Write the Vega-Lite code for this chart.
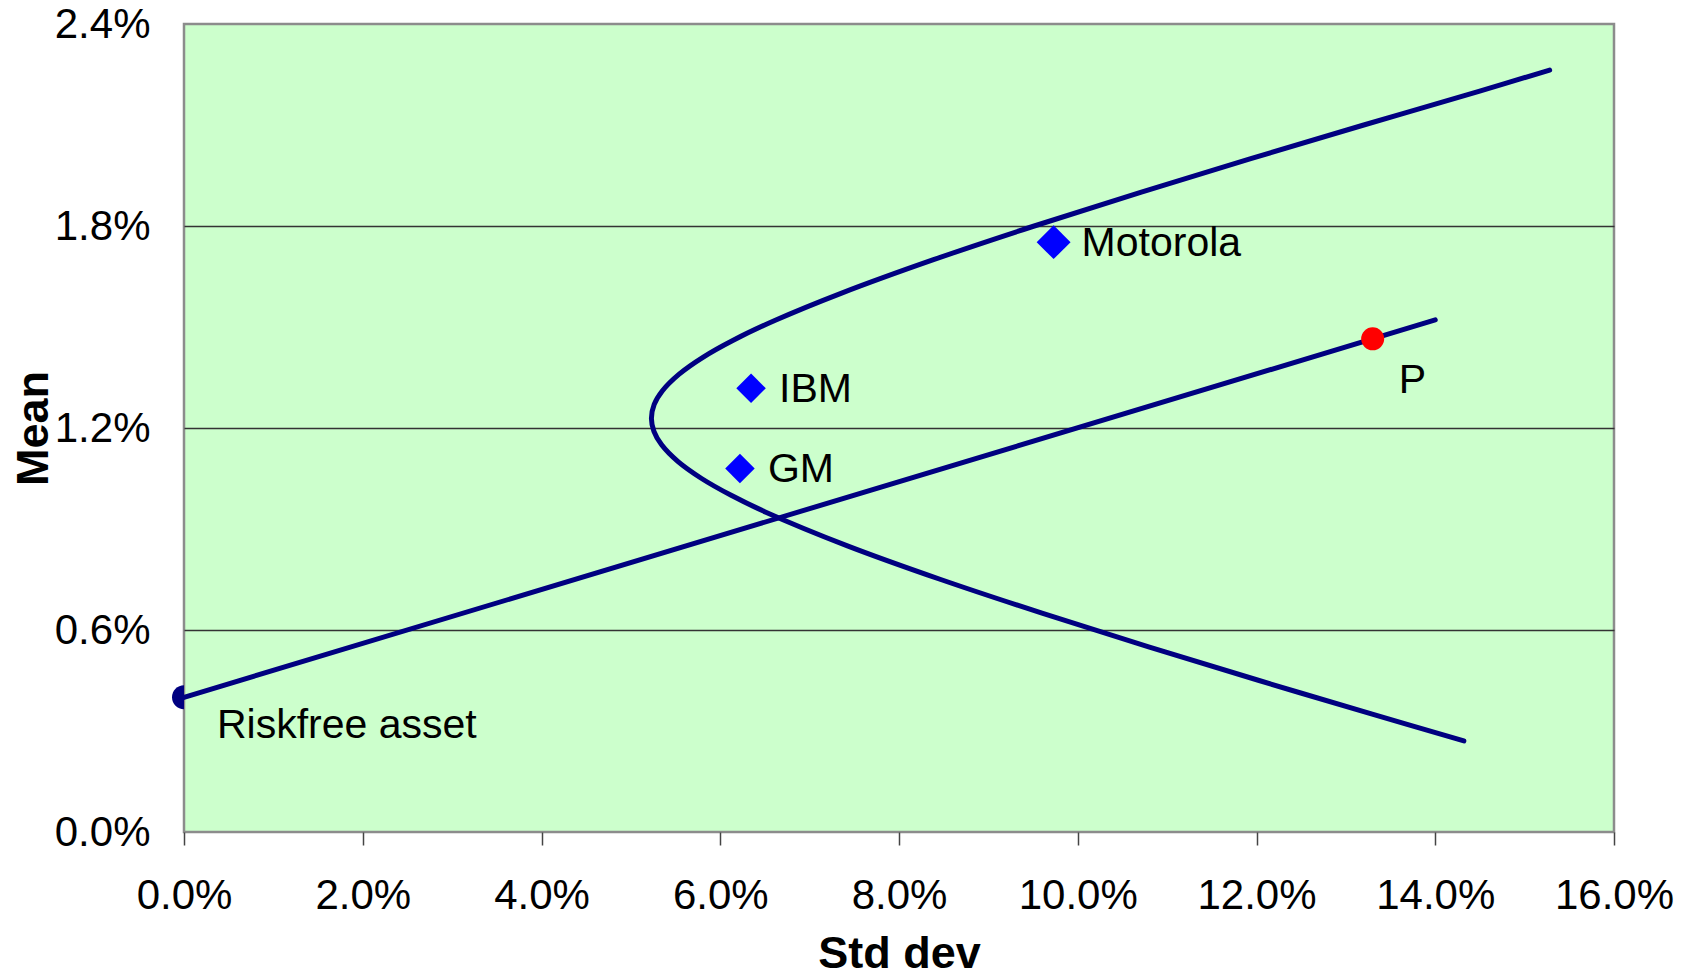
{
  "$schema": "https://vega.github.io/schema/vega-lite/v6.json",
  "width": 1430,
  "height": 808,
  "autosize": {"type": "none"},
  "padding": {"left": 184, "top": 24, "right": 80, "bottom": 144},
  "background": "white",
  "config": {
    "view": {"fill": "#CCFFCC", "stroke": "#8c8c8c", "strokeWidth": 2.5},
    "axis": {
      "labelFont": "Liberation Sans",
      "labelFontSize": 42,
      "labelColor": "#000000",
      "titleFont": "Liberation Sans",
      "titleFontSize": 45,
      "titleFontWeight": "bold",
      "titleColor": "#000000"
    },
    "text": {"font": "Liberation Sans", "fontSize": 41, "color": "#000000"}
  },
  "datasets": {
    "frontier": [
      {"sd": 0.1432, "mean": 0.002704},
      {"sd": 0.13295, "mean": 0.0035},
      {"sd": 0.12029, "mean": 0.0045},
      {"sd": 0.10793, "mean": 0.0055},
      {"sd": 0.0960, "mean": 0.0065},
      {"sd": 0.08467, "mean": 0.0075},
      {"sd": 0.07423, "mean": 0.0085},
      {"sd": 0.0651, "mean": 0.0095},
      {"sd": 0.06122, "mean": 0.0100},
      {"sd": 0.05791, "mean": 0.0105},
      {"sd": 0.05528, "mean": 0.0110},
      {"sd": 0.05344, "mean": 0.0115},
      {"sd": 0.05258, "mean": 0.0119},
      {"sd": 0.0523, "mean": 0.012287},
      {"sd": 0.05261, "mean": 0.0127},
      {"sd": 0.05351, "mean": 0.0131},
      {"sd": 0.0554, "mean": 0.0136},
      {"sd": 0.05806, "mean": 0.0141},
      {"sd": 0.0614, "mean": 0.0146},
      {"sd": 0.06616, "mean": 0.0152},
      {"sd": 0.07351, "mean": 0.0160},
      {"sd": 0.08386, "mean": 0.0170},
      {"sd": 0.09513, "mean": 0.0180},
      {"sd": 0.10703, "mean": 0.0190},
      {"sd": 0.11936, "mean": 0.0200},
      {"sd": 0.1320, "mean": 0.0210},
      {"sd": 0.14488, "mean": 0.0220},
      {"sd": 0.1528, "mean": 0.02263}
    ],
    "cal": [
      {"sd": 0.0, "mean": 0.004},
      {"sd": 0.14, "mean": 0.01521}
    ],
    "assets": [
      {"name": "Motorola", "sd": 0.0973, "mean": 0.01752},
      {"name": "IBM", "sd": 0.06345, "mean": 0.01318},
      {"name": "GM", "sd": 0.0622, "mean": 0.0108}
    ],
    "riskfree": [{"name": "Riskfree asset", "sd": 0.0, "mean": 0.004}],
    "portfolio": [{"name": "P", "sd": 0.1330, "mean": 0.01465}]
  },
  "encoding": {
    "x": {
      "field": "sd",
      "type": "quantitative",
      "scale": {"domain": [0, 0.16], "nice": false, "zero": false},
      "axis": {
        "title": "Std dev",
        "values": [0, 0.02, 0.04, 0.06, 0.08, 0.1, 0.12, 0.14, 0.16],
        "format": ".1%",
        "grid": false,
        "domain": false,
        "ticks": true,
        "tickSize": 13,
        "tickWidth": 1.5,
        "tickColor": "#444444",
        "labelPadding": 30,
        "labelFlush": false,
        "labelOverlap": false,
        "titleY": 135,
        "titleBaseline": "alphabetic"
      }
    },
    "y": {
      "field": "mean",
      "type": "quantitative",
      "scale": {"domain": [0, 0.024], "nice": false, "zero": false},
      "axis": {
        "title": "Mean",
        "values": [0, 0.006, 0.012, 0.018, 0.024],
        "format": ".1%",
        "grid": true,
        "gridColor": {"condition": {"test": "datum.value > 0.0001 && datum.value < 0.0239", "value": "#333333"}, "value": "transparent"},
        "gridWidth": 1.3,
        "domain": false,
        "ticks": false,
        "labelPadding": 34,
        "labelFlush": false,
        "labelOverlap": false,
        "titleX": -137,
        "titleBaseline": "alphabetic"
      }
    }
  },
  "layer": [
    {
      "data": {"name": "frontier"},
      "mark": {"type": "line", "color": "#000080", "strokeWidth": 5, "strokeCap": "round", "strokeJoin": "round", "interpolate": "catmull-rom"},
      "encoding": {"order": {"field": "mean", "type": "quantitative"}}
    },
    {
      "data": {"name": "cal"},
      "mark": {"type": "line", "color": "#000080", "strokeWidth": 5, "strokeCap": "round"},
      "encoding": {"order": {"field": "sd", "type": "quantitative"}}
    },
    {
      "data": {"name": "riskfree"},
      "mark": {"type": "point", "shape": "M0,-1A1,1,0,0,0,0,1Z", "filled": true, "color": "#000080", "size": 576, "opacity": 1}
    },
    {
      "data": {"name": "assets"},
      "mark": {"type": "point", "shape": "diamond", "filled": true, "color": "#0000FF", "opacity": 1},
      "encoding": {
        "size": {"condition": {"test": "datum.name === 'Motorola'", "value": 1150}, "value": 870}
      }
    },
    {
      "data": {"name": "portfolio"},
      "mark": {"type": "circle", "color": "#FF0000", "size": 530, "opacity": 1}
    },
    {
      "data": {"name": "assets"},
      "mark": {"type": "text", "align": "left", "baseline": "middle", "dx": 28, "dy": 2},
      "encoding": {"text": {"field": "name"}}
    },
    {
      "data": {"name": "portfolio"},
      "mark": {"type": "text", "align": "left", "baseline": "middle", "dx": 26, "dy": 42},
      "encoding": {"text": {"field": "name"}}
    },
    {
      "data": {"name": "riskfree"},
      "mark": {"type": "text", "align": "left", "baseline": "middle", "dx": 33, "dy": 29},
      "encoding": {"text": {"field": "name"}}
    }
  ]
}
